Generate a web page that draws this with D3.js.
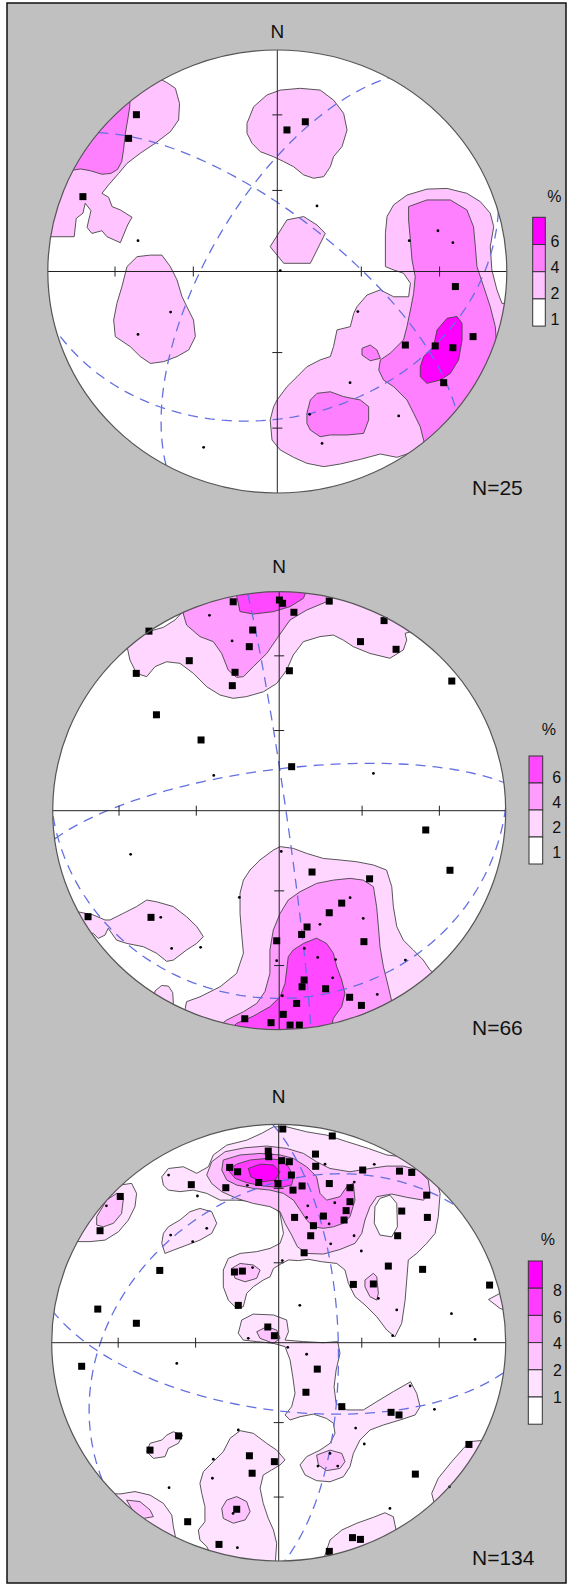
<!DOCTYPE html>
<html><head><meta charset="utf-8">
<script src="https://cdn.jsdelivr.net/npm/d3@7"></script>
<style>body{margin:0;background:#fff}svg{display:block}text{font-family:"Liberation Sans",Arial,sans-serif;fill:#111}</style>
</head><body><svg id="c" width="568" height="1585"></svg>
<script>
// ---------- DATA (net coordinates: -100..100, x east, y south-down) ----------
const tickAngles = [30, 60];
const net1Count = 25, net2Count = 66, net3Count = 134;

const legend1Labels = ["6","4","2","1"];
const legend1Colors = ["#ff00ff","#ff80ff","#ffc4ff","#ffffff"];
const legend2Labels = ["6","4","2","1"];
const legend2Colors = ["#ff48ff","#ff9cff","#ffd6ff","#ffffff"];
const legend3Labels = ["8","6","4","2","1"];
const legend3Colors = ["#ff00ff","#ff3cff","#ff8aff","#ffc4ff","#ffe2ff","#ffffff"];

const net1Palette = ["#ffc4ff","#ff80ff","#ff00ff"];
const net2Palette = ["#ffd6ff","#ff9cff","#ff48ff"];
const net3Palette = ["#ffe2ff","#ffc4ff","#ff8aff","#ff3cff","#ff00ff"];

// planes: [dip direction, dip]
const net1Planes = [[299,65.5],[38.8,69.6],[164.4,34.7]];
const net2Planes = [[82,87.6],[352.6,74.6],[179.1,15.4]];
const net3Planes = [[321,33.4],[187.9,64.7],[88.5,68.6]];

const net1Contours = [
 {level:1, pts:[[-81.5,-91.0],[-53.2,-88.0],[-48.1,-85.3],[-44.4,-82.7],[-42.6,-75.9],[-43.0,-68.4],[-46.6,-63.1],[-53.2,-57.9],[-59.7,-53.4],[-65.5,-48.8],[-69.1,-44.3],[-73.5,-39.1],[-76.4,-35.3],[-73.5,-33.5],[-72.0,-29.3],[-68.4,-27.8],[-63.3,-24.5],[-65.2,-21.0],[-68.4,-13.0],[-74.2,-15.7],[-76.4,-18.4],[-80.8,-17.2],[-82.9,-19.9],[-81.2,-27.5],[-83.7,-30.8],[-84.7,-26.3],[-87.6,-24.0],[-88.5,-15.7],[-98.9,-15.7],[-103.3,-15.7]]},
 {level:1, pts:[[-13.2,-66.9],[-10.3,-74.4],[-4.5,-79.7],[1.3,-81.9],[10.0,-82.7],[18.7,-81.9],[24.5,-77.4],[28.9,-71.4],[30.4,-63.9],[28.2,-56.4],[24.5,-51.8],[23.1,-47.3],[20.2,-42.8],[15.8,-42.1],[11.5,-43.6],[7.1,-47.3],[2.8,-49.6],[-1.6,-51.8],[-7.4,-54.1],[-11.0,-57.9],[-13.2,-62.4]]},
 {level:1, pts:[[-3.1,-11.2],[4.2,-23.3],[11.5,-24.8],[17.3,-21.0],[20.9,-17.2],[14.4,-3.7],[2.8,-3.7]]},
 {level:1, pts:[[-70.6,29.4],[-71.3,21.9],[-69.9,14.4],[-67.7,6.8],[-65.5,-2.2],[-61.1,-6.7],[-55.3,-7.4],[-50.3,-7.4],[-46.6,-2.2],[-43.7,3.8],[-41.5,11.4],[-39.4,15.9],[-36.5,21.9],[-35.7,29.4],[-38.6,35.4],[-43.7,38.4],[-49.5,40.7],[-55.3,41.5],[-59.7,38.4],[-64.1,33.9]]},
 {level:1, pts:[[47.1,-2.2],[47.1,-17.2],[47.8,-24.8],[50.7,-30.1],[56.5,-34.5],[65.2,-37.2],[74.0,-37.5],[82.6,-35.3],[88.5,-31.5],[92.8,-26.3],[94.3,-20.2],[92.8,-11.2],[93.5,-0.7],[95.7,8.3],[97.9,14.4],[104.4,14.4],[104.4,89.6],[65.2,89.6],[63.8,80.6],[56.5,82.4],[52.1,83.9],[44.9,82.4],[36.2,84.8],[27.5,86.9],[20.2,88.1],[12.9,86.6],[7.1,83.9],[1.3,80.6],[-2.3,76.1],[-3.1,67.0],[-1.6,61.0],[-0.1,58.0],[4.2,52.0],[8.6,47.5],[12.9,43.0],[18.7,39.9],[23.1,38.4],[24.5,33.9],[26.0,26.4],[31.8,24.9],[33.3,18.9],[34.7,15.9],[39.1,10.6],[44.9,8.3],[50.7,11.4],[57.2,11.4],[58.0,5.3],[55.0,0.8],[50.7,-0.7]]},
 {level:2, pts:[[-81.5,-83.4],[-64.1,-78.9],[-64.3,-74.4],[-65.2,-68.4],[-66.2,-62.4],[-67.0,-54.9],[-67.8,-49.6],[-69.6,-46.1],[-72.5,-44.3],[-76.4,-43.9],[-81.5,-45.5],[-85.8,-46.3],[-88.7,-45.8],[-94.6,-45.8]]},
 {level:2, pts:[[57.2,-23.3],[57.2,-29.3],[65.2,-32.3],[75.4,-32.3],[82.6,-27.8],[85.5,-20.2],[86.3,-11.2],[87.0,-2.2],[89.9,6.8],[92.8,15.9],[95.0,24.9],[95.4,30.9],[104.4,30.9],[104.4,89.6],[65.2,89.6],[63.8,76.4],[62.3,70.1],[59.4,64.0],[56.5,58.0],[50.7,52.0],[46.3,49.0],[44.2,44.5],[44.9,39.9],[49.2,36.9],[55.0,30.9],[56.5,24.9],[58.0,17.4],[59.4,9.9],[60.1,2.3],[58.7,-5.2],[58.0,-14.2]]},
 {level:2, pts:[[12.9,64.0],[14.4,58.0],[17.3,55.0],[23.1,54.3],[28.9,56.5],[36.2,58.0],[39.8,61.0],[39.8,67.0],[37.6,73.1],[30.4,73.8],[23.1,73.8],[18.7,74.6],[14.4,71.6],[12.9,68.5]]},
 {level:2, pts:[[36.9,34.7],[40.5,33.2],[43.4,35.4],[44.9,39.2],[40.5,40.3],[36.9,37.7]]},
 {level:3, pts:[[62.3,43.0],[63.8,38.4],[68.1,33.9],[69.6,26.4],[74.0,21.1],[78.3,20.3],[80.5,23.4],[80.5,30.9],[79.0,39.9],[75.4,46.0],[71.0,49.0],[65.2,50.5],[62.3,47.5]]}
];
const net1Squares = [[-61.4,-70.8],[-64.8,-60.1],[-84.7,-33.8],[4.2,-63.9],[12.2,-67.6],[77.6,6.8],[55.8,33.2],[68.8,33.6],[76.5,34.4],[85.3,29.4],[72.5,50.2]];
const net1Dots = [[17.3,-29.6],[-60.7,-13.9],[1.3,-0.4],[70.0,-18.4],[76.5,-13.0],[57.5,-13.9],[-46.5,18.3],[-60.7,28.4],[35.1,18.1],[31.7,50.2],[52.9,65.2],[14.1,64.5],[19.5,77.6],[-32.1,79.4]];

const net2Contours = [
 {level:1, pts:[[-43.1,-100.8],[63.6,-100.8],[63.6,-83.3],[55.6,-81.0],[56.3,-77.9],[54.8,-73.4],[48.9,-69.6],[40.1,-71.8],[32.7,-74.9],[28.3,-77.9],[23.9,-80.2],[18.0,-79.5],[10.7,-77.2],[6.2,-71.1],[3.3,-64.2],[-1.1,-58.1],[-7.0,-54.3],[-14.4,-52.1],[-20.3,-51.3],[-26.1,-52.8],[-32.0,-56.6],[-37.9,-62.7],[-43.8,-67.3],[-49.7,-68.0],[-54.8,-65.8],[-58.5,-61.2],[-63.0,-62.7],[-65.9,-68.8],[-67.0,-74.1],[-76.2,-77.9],[-57.0,-82.0],[-51.2,-83.7],[-46.0,-87.1],[-43.1,-90.3]]},
 {level:1, pts:[[-41.6,90.9],[-40.9,87.2],[-35.0,85.0],[-26.1,80.4],[-18.8,74.3],[-15.8,65.1],[-16.6,56.0],[-17.3,46.9],[-17.3,37.7],[-15.8,31.7],[-12.9,27.1],[-8.5,22.5],[-2.6,18.0],[0.4,16.4],[6.2,17.2],[12.1,19.5],[19.5,21.8],[26.8,22.5],[34.2,23.3],[41.6,24.8],[47.4,27.1],[49.7,34.7],[50.4,43.8],[51.9,52.9],[54.8,59.1],[59.2,63.6],[63.6,68.2],[66.6,72.8],[78.3,81.9],[78.3,112.3],[-46.7,112.3],[-49.7,92.5]]},
 {level:1, pts:[[-92.4,45.4],[-82.1,47.6],[-76.9,49.9],[-74.7,49.9],[-68.9,46.9],[-63.0,43.8],[-58.5,40.8],[-54.1,41.6],[-46.7,43.8],[-40.9,48.4],[-36.4,52.9],[-33.5,57.5],[-36.4,60.6],[-40.9,63.6],[-46.7,68.2],[-49.7,68.8],[-54.1,65.1],[-60.0,62.1],[-67.3,60.6],[-71.8,59.1],[-75.5,53.7],[-76.9,56.8],[-79.9,58.3],[-82.1,56.0],[-89.4,56.0]]},
 {level:1, pts:[[-55.6,86.5],[-54.8,82.3],[-51.9,79.8],[-48.9,80.1],[-47.0,83.1],[-46.7,88.7]]},
 {level:2, pts:[[-42.3,-100.8],[-42.3,-89.8],[-40.9,-84.8],[-35.0,-79.5],[-29.1,-77.2],[-25.4,-71.8],[-22.5,-64.2],[-18.8,-60.9],[-15.8,-61.2],[-11.4,-65.8],[-5.5,-71.8],[-0.4,-79.5],[4.8,-87.1],[12.1,-91.6],[20.9,-95.4],[23.9,-100.8]]},
 {level:2, pts:[[-29.1,100.2],[-23.2,95.6],[-15.8,91.8],[-9.9,88.0],[-6.3,82.6],[-4.1,74.3],[-4.1,63.6],[-2.6,54.5],[0.4,46.9],[4.0,40.8],[9.2,37.0],[16.5,33.2],[23.9,31.7],[31.3,30.9],[37.1,31.7],[41.6,34.7],[43.0,43.8],[43.8,52.9],[44.5,62.1],[46.0,71.2],[48.2,80.4],[49.7,87.2],[56.3,97.1],[41.6,112.3],[-29.1,112.3]]},
 {level:3, pts:[[-18.8,-100.8],[-18.8,-98.2],[-17.3,-90.9],[-11.4,-89.8],[-2.6,-90.9],[4.8,-93.2],[10.7,-97.0],[12.1,-100.8]]},
 {level:3, pts:[[-23.2,101.7],[-18.8,97.1],[-11.4,93.8],[-4.1,89.5],[0.4,85.0],[2.6,78.8],[3.3,72.8],[4.0,66.7],[6.2,63.6],[10.7,60.6],[16.5,58.2],[20.9,60.6],[23.9,65.1],[25.4,71.2],[27.6,77.3],[29.0,83.4],[27.6,89.5],[23.9,94.8],[22.4,101.7]]}
];
const net2Squares = [[-20.3,-95.4],[0.1,-96.2],[1.5,-94.7],[6.5,-90.6],[22.1,-95.7],[46.3,-86.8],[-57.5,-82.0],[-11.7,-82.5],[-13.2,-74.9],[35.9,-77.2],[51.6,-73.7],[-39.7,-68.5],[-63.1,-62.7],[-19.5,-63.2],[-20.7,-57.1],[4.5,-63.9],[76.2,-59.2],[-54.2,-43.8],[-34.5,-32.3],[5.5,-20.1],[64.7,8.8],[75.4,27.2],[14.5,28.0],[39.9,31.1],[27.6,42.2],[22.1,46.6],[12.3,53.1],[9.9,56.5],[-1.1,59.4],[37.4,59.8],[-84.4,48.4],[-56.6,48.7],[11.0,77.3],[10.1,80.4],[20.5,81.3],[31.1,85.2],[7.7,88.0],[36.3,88.9],[1.8,93.0],[-15.2,95.0],[-3.6,96.8],[4.8,97.9],[8.9,97.9]];
const net2Dots = [[-30.8,-89.2],[-20.8,-77.5],[-28.9,-16.1],[41.6,-17.0],[-65.6,19.9],[0.9,18.6],[-17.6,39.6],[31.3,39.7],[18.0,51.9],[37.1,49.2],[-52.3,48.7],[-47.5,62.9],[-34.7,62.4],[11.1,62.9],[17.0,67.0],[24.9,68.0],[23.6,76.3],[-1.1,68.5],[1.4,84.5],[43.3,83.9],[55.7,68.2]];

const net3Contours = [
 {level:1, pts:[[-51.5,-76.0],[-48.6,-79.8],[-42.0,-80.6],[-36.1,-77.6],[-31.0,-80.6],[-28.8,-86.0],[-22.9,-90.5],[-14.1,-92.8],[-7.5,-95.9],[-2.3,-98.9],[3.5,-98.9],[12.3,-96.6],[21.1,-95.1],[30.0,-92.1],[39.5,-89.0],[47.6,-86.0],[56.4,-84.9],[63.7,-82.1],[68.9,-76.8],[71.1,-68.4],[70.3,-57.7],[68.9,-50.1],[65.2,-45.5],[60.8,-40.9],[57.1,-37.9],[56.4,-28.7],[55.7,-19.5],[54.2,-8.9],[51.2,-2.7],[47.6,-5.8],[43.2,-11.9],[38.0,-17.3],[33.6,-21.1],[30.7,-27.2],[29.2,-33.3],[25.6,-36.3],[18.9,-37.1],[13.1,-38.2],[8.7,-37.6],[4.3,-37.9],[1.3,-36.3],[-2.3,-34.0],[-3.8,-30.2],[-6.8,-28.7],[-11.2,-25.6],[-14.1,-22.6],[-15.6,-16.5],[-18.5,-15.7],[-22.2,-19.5],[-24.4,-25.6],[-24.4,-33.3],[-22.2,-38.6],[-17.0,-40.9],[-9.7,-41.7],[-3.8,-43.2],[0.6,-45.5],[2.1,-50.1],[0.6,-59.2],[-2.3,-62.3],[-9.7,-64.6],[-18.5,-65.3],[-25.8,-65.3],[-31.7,-68.4],[-37.6,-69.9],[-43.5,-69.2],[-48.6,-69.9],[-50.8,-72.2]]},
 {level:1, pts:[[-50.8,-50.1],[-48.6,-53.1],[-43.5,-56.2],[-39.1,-60.0],[-34.7,-61.5],[-29.5,-60.0],[-27.3,-54.7],[-29.5,-50.1],[-34.7,-47.0],[-40.5,-44.7],[-46.4,-42.4],[-50.1,-40.9],[-51.5,-45.5]]},
 {level:1, pts:[[-83.1,-71.5],[-69.9,-72.2],[-64.8,-73.0],[-62.6,-68.4],[-63.3,-62.3],[-66.2,-56.2],[-70.6,-50.8],[-76.5,-47.0],[-83.1,-46.3],[-89.0,-46.3],[-90.5,-57.7]]},
 {level:1, pts:[[92.4,-19.8],[97.5,-22.6],[103.4,-22.6],[103.4,-13.4],[97.5,-15.7]]},
 {level:1, pts:[[-17.8,-4.3],[-16.3,-10.4],[-11.2,-13.1],[-2.3,-12.7],[3.5,-10.4],[4.3,-5.0],[2.8,-1.2],[10.9,-0.5],[19.7,0.0],[26.0,-0.5],[27.0,4.9],[25.3,12.5],[24.4,20.2],[25.3,27.8],[30.0,30.8],[37.3,30.8],[43.2,27.0],[50.5,22.4],[58.1,17.9],[60.8,23.2],[62.3,29.3],[60.1,33.1],[53.5,35.4],[46.1,37.7],[40.2,40.0],[35.8,44.6],[32.9,50.7],[31.4,56.8],[28.5,61.4],[22.6,63.7],[16.7,63.2],[11.6,60.6],[9.4,56.0],[12.3,52.2],[18.2,49.2],[22.6,46.1],[24.8,41.5],[24.1,36.9],[21.1,34.7],[15.3,32.7],[9.4,33.9],[5.0,35.4],[2.8,33.1],[5.7,29.3],[7.2,23.2],[6.2,15.6],[5.0,7.9],[2.8,1.8],[-2.3,0.3],[-9.7,-0.5],[-15.6,-1.2]]},
 {level:1, pts:[[-58.1,49.9],[-56.7,46.1],[-51.5,44.6],[-49.3,42.3],[-46.4,40.8],[-42.3,42.3],[-44.2,46.1],[-48.6,48.4],[-50.1,52.2],[-55.2,53.0]]},
 {level:1, pts:[[-29.5,98.0],[-31.7,93.4],[-34.7,90.4],[-35.4,85.8],[-32.5,82.0],[-32.5,75.1],[-33.9,69.0],[-34.7,64.4],[-33.2,59.1],[-28.8,54.5],[-24.4,49.9],[-21.4,43.8],[-17.0,40.3],[-11.2,41.5],[-5.3,46.1],[-0.9,49.2],[2.8,53.7],[0.6,56.0],[-3.1,58.3],[-6.8,60.6],[-8.2,66.7],[-6.8,73.6],[-4.6,80.5],[-2.3,85.8],[-0.9,91.9],[-1.6,102.6]]},
 {level:1, pts:[[-75.8,69.0],[-69.9,69.3],[-63.3,68.2],[-56.7,69.8],[-50.8,73.6],[-47.1,79.0],[-46.4,84.3],[-44.9,91.9],[-68.4,84.3]]},
 {level:1, pts:[[19.7,99.5],[22.6,90.4],[27.8,85.8],[34.4,82.7],[41.7,80.0],[46.8,77.9],[50.5,79.7],[52.0,87.3],[41.7,102.6]]},
 {level:1, pts:[[67.4,69.0],[70.3,62.1],[76.2,54.5],[81.4,48.4],[84.3,45.3],[91.6,44.6],[79.9,78.2],[68.9,75.1]]},
 {level:0, pts:[[42.4,-62.3],[44.6,-66.1],[49.0,-67.6],[52.0,-63.8],[52.3,-53.1],[49.8,-48.5],[44.6,-49.3],[42.1,-54.7]]},
 {level:2, pts:[[-31.7,-76.8],[-29.5,-82.9],[-23.6,-87.5],[-14.8,-89.3],[-5.3,-90.1],[3.5,-89.0],[10.9,-86.7],[16.7,-82.9],[22.6,-79.8],[31.4,-78.3],[40.2,-79.8],[47.6,-80.9],[54.9,-80.9],[61.5,-79.1],[65.9,-74.5],[66.7,-68.4],[63.7,-65.3],[56.4,-66.6],[49.8,-68.1],[43.2,-66.9],[40.2,-62.3],[38.0,-56.2],[36.6,-50.1],[33.6,-45.5],[27.0,-42.7],[19.7,-40.6],[12.3,-40.9],[8.2,-44.0],[5.7,-49.3],[2.8,-54.7],[0.6,-60.0],[-3.8,-62.3],[-11.2,-63.8],[-18.5,-66.1],[-25.1,-69.2],[-29.5,-72.9]]},
 {level:2, pts:[[-80.2,-57.7],[-75.8,-65.3],[-71.4,-68.4],[-68.4,-66.1],[-69.2,-59.2],[-72.8,-54.7],[-77.2,-53.1],[-80.2,-53.9]]},
 {level:2, pts:[[38.0,-28.7],[41.7,-31.8],[43.2,-30.2],[43.9,-22.6],[43.2,-19.5],[40.2,-21.1],[38.0,-25.6]]},
 {level:2, pts:[[-20.7,-34.0],[-17.0,-36.3],[-11.2,-35.6],[-8.2,-33.3],[-9.7,-29.5],[-14.8,-27.9],[-19.2,-29.5]]},
 {level:2, pts:[[16.7,51.5],[22.6,49.2],[27.8,50.7],[29.2,54.5],[27.0,57.6],[21.1,58.6],[17.5,56.0]]},
 {level:2, pts:[[-9.7,-5.0],[-5.3,-7.3],[-0.9,-5.8],[0.6,-2.0],[-2.3,0.3],[-8.2,-2.0]]},
 {level:2, pts:[[-25.1,75.9],[-22.9,72.1],[-18.5,70.5],[-14.1,72.8],[-12.6,77.4],[-14.8,81.2],[-20.0,82.7],[-24.4,80.5]]},
 {level:2, pts:[[-67.0,72.1],[-61.1,72.8],[-56.7,76.6],[-55.2,79.7],[-59.6,80.5],[-64.0,77.4]]},
 {level:3, pts:[[-24.4,-83.7],[-17.0,-86.0],[-8.2,-86.7],[0.6,-86.0],[6.5,-84.4],[12.3,-80.6],[16.7,-76.0],[18.2,-68.4],[21.1,-65.3],[27.0,-66.9],[30.0,-71.5],[32.9,-73.0],[33.6,-65.3],[31.4,-57.7],[28.5,-54.7],[24.1,-53.1],[19.7,-52.4],[15.3,-53.1],[12.3,-56.2],[9.4,-60.8],[6.5,-65.3],[2.1,-68.4],[-3.8,-69.9],[-11.2,-70.7],[-18.5,-72.2],[-22.9,-74.5],[-25.1,-79.1]]},
 {level:4, pts:[[-22.2,-79.1],[-18.5,-81.8],[-12.6,-83.7],[-5.3,-84.4],[0.6,-83.7],[4.3,-80.6],[6.5,-76.0],[5.7,-72.2],[0.6,-71.1],[-6.8,-71.8],[-14.1,-73.3],[-19.2,-75.3]]},
 {level:5, pts:[[-13.4,-79.8],[-8.2,-81.8],[-2.3,-81.4],[0.6,-78.3],[-1.6,-74.5],[-7.5,-73.7],[-12.3,-76.0]]}
];
const net3Squares = [[1.8,-97.9],[23.6,-94.7],[-4.6,-87.8],[-4.4,-85.2],[1.3,-83.4],[4.7,-82.9],[16.2,-86.4],[-21.6,-80.3],[-18.1,-78.3],[5.6,-76.8],[16.3,-80.8],[37.0,-79.1],[53.2,-78.6],[58.6,-78.0],[-38.5,-72.4],[-23.3,-71.0],[-8.8,-73.4],[-0.3,-72.9],[10.3,-71.8],[6.3,-69.9],[22.3,-72.9],[31.4,-71.0],[65.2,-67.6],[-69.8,-67.0],[31.4,-64.6],[29.7,-60.5],[28.8,-56.2],[19.7,-58.0],[7.0,-57.4],[15.3,-53.6],[54.2,-60.3],[65.5,-57.4],[14.1,-49.0],[52.4,-49.0],[-78.7,-51.3],[11.2,-41.2],[48.3,-35.1],[63.4,-33.6],[-19.5,-32.4],[-16.0,-32.8],[-52.4,-33.1],[32.9,-26.7],[41.7,-26.9],[92.9,-26.4],[-17.8,-17.1],[-79.7,-15.4],[-62.7,-8.9],[-4.8,-7.2],[-1.9,-3.2],[-86.8,10.8],[17.0,12.1],[12.0,22.7],[27.8,29.3],[49.5,31.9],[53.0,33.1],[83.8,46.6],[-44.1,42.7],[-56.7,49.2],[-12.9,51.8],[-1.9,54.5],[-11.7,59.8],[60.2,60.2],[-18.5,76.3],[-40.1,82.0],[32.5,89.3],[36.0,90.1],[-26.3,92.4],[22.3,95.6]];
const net3Dots = [[-48.5,-76.8],[-35.8,-67.2],[-17.8,-77.9],[-13.8,-72.1],[-1.3,-74.0],[20.4,-81.8],[42.1,-81.7],[33.3,-73.6],[12.8,-62.7],[24.7,-64.1],[12.3,-57.4],[22.2,-54.4],[33.2,-49.0],[22.9,-45.3],[36.4,-42.0],[-75.9,-62.7],[-47.6,-49.3],[-37.9,-46.3],[-31.7,-52.4],[-11.5,-34.4],[1.6,-37.6],[43.9,-20.3],[52.0,-15.0],[50.2,-3.2],[9.3,-17.1],[76.1,-13.3],[86.5,-1.5],[-13.4,-2.0],[4.0,2.1],[12.3,5.3],[-44.9,9.5],[57.9,19.8],[68.6,30.5],[33.9,39.1],[37.7,46.4],[17.3,56.5],[26.0,56.5],[22.6,50.7],[-28.8,53.4],[-29.2,62.1],[-48.3,66.4],[-20.1,78.2],[49.0,75.9],[75.2,66.0],[-17.8,40.0],[-18.2,93.9]];

// ---------- LAYOUT ----------
const layout = [
 {cx:277.3, cy:271.5, rx:229.5, ry:221.5, nY:38, countY:495,
  lg:{x:532.7, top:217.3, h:27.2, w:12.6, labelX:550.5, labelY:247, labelStep:26, pctX:547.3, pctY:202}},
 {cx:279.2, cy:810.7, rx:226.5, ry:219, nY:573, countY:1035,
  lg:{x:529, top:756, h:27, w:13.7, labelX:552.3, labelY:783, labelStep:25, pctX:541.7, pctY:735}},
 {cx:278.7, cy:1342.7, rx:227, ry:218.3, nY:1103, countY:1565,
  lg:{x:528.3, top:1261, h:27.2, w:14, labelX:553, labelY:1296, labelStep:26.7, pctX:540.7, pctY:1245}}
];

const nets = [
 {contours:net1Contours, squares:net1Squares, dots:net1Dots, planes:net1Planes, palette:net1Palette, count:net1Count, labels:legend1Labels, colors:legend1Colors},
 {contours:net2Contours, squares:net2Squares, dots:net2Dots, planes:net2Planes, palette:net2Palette, count:net2Count, labels:legend2Labels, colors:legend2Colors},
 {contours:net3Contours, squares:net3Squares, dots:net3Dots, planes:net3Planes, palette:net3Palette, count:net3Count, labels:legend3Labels, colors:legend3Colors}
];

// equal-area (Schmidt) lower-hemisphere great circle of a plane
function greatCircle(dd, dip) {
  const rad = Math.PI / 180;
  const sAz = (dd - 90) * rad;
  const s = [Math.sin(sAz), Math.cos(sAz), 0];
  const d = [Math.sin(dd*rad)*Math.cos(dip*rad), Math.cos(dd*rad)*Math.cos(dip*rad), Math.sin(dip*rad)];
  const pts = [];
  for (let a = 0; a <= 180; a += 2) {
    const ca = Math.cos(a*rad), sa = Math.sin(a*rad);
    const x = ca*s[0] + sa*d[0], y = ca*s[1] + sa*d[1], z = ca*s[2] + sa*d[2];
    const pl = Math.asin(Math.max(-1, Math.min(1, z)));
    const tr = Math.atan2(x, y);
    const r = Math.SQRT2 * Math.sin((Math.PI/2 - pl) / 2);
    pts.push([100 * r * Math.sin(tr), -100 * r * Math.cos(tr)]);
  }
  return pts;
}

const svg = d3.select("#c");
svg.append("rect").attr("x", 7).attr("y", 3).attr("width", 559).attr("height", 1580)
  .attr("fill", "#c0c0c0").attr("stroke", "#111").attr("stroke-width", 1.5);

const defs = svg.append("defs");

nets.forEach((net, i) => {
  const L = layout[i];
  const x = d3.scaleLinear().domain([-100, 100]).range([L.cx - L.rx, L.cx + L.rx]);
  const y = d3.scaleLinear().domain([-100, 100]).range([L.cy - L.ry, L.cy + L.ry]);
  const clipId = "clip" + i;
  defs.append("clipPath").attr("id", clipId).append("ellipse")
    .attr("cx", L.cx).attr("cy", L.cy).attr("rx", L.rx).attr("ry", L.ry);

  const g = svg.append("g");
  g.append("ellipse").attr("cx", L.cx).attr("cy", L.cy).attr("rx", L.rx).attr("ry", L.ry).attr("fill", "#fff");

  const inner = g.append("g").attr("clip-path", `url(#${clipId})`);
  const poly = d3.line().x(d => x(d[0])).y(d => y(d[1])).curve(d3.curveLinearClosed);
  inner.selectAll("path.ct").data(net.contours).join("path").attr("class", "ct")
    .attr("d", c => poly(c.pts))
    .attr("fill", c => c.level === 0 ? "#ffffff" : net.palette[c.level - 1])
    .attr("stroke", "#444").attr("stroke-width", 0.9).attr("stroke-linejoin", "round");

  const gcLine = d3.line().x(d => x(d[0])).y(d => y(d[1])).curve(d3.curveLinear);
  inner.selectAll("path.gc").data(net.planes).join("path").attr("class", "gc")
    .attr("d", p => gcLine(greatCircle(p[0], p[1])))
    .attr("fill", "none").attr("stroke", "#6470e0").attr("stroke-width", 1.3)
    .attr("stroke-dasharray", "10,7");

  // axes
  g.append("line").attr("x1", x(-100)).attr("x2", x(100)).attr("y1", y(0)).attr("y2", y(0))
    .attr("stroke", "#222").attr("stroke-width", 1);
  g.append("line").attr("x1", x(0)).attr("x2", x(0)).attr("y1", y(-100)).attr("y2", y(100))
    .attr("stroke", "#222").attr("stroke-width", 1);
  const tickR = [];
  tickAngles.forEach(a => { const r = 100 * Math.SQRT2 * Math.sin(a * Math.PI / 360); tickR.push(r, -r); });
  g.selectAll("line.tx").data(tickR).join("line").attr("class", "tx")
    .attr("x1", r => x(r)).attr("x2", r => x(r)).attr("y1", y(0) - 5).attr("y2", y(0) + 5)
    .attr("stroke", "#222").attr("stroke-width", 1);
  g.selectAll("line.ty").data(tickR).join("line").attr("class", "ty")
    .attr("y1", r => y(r)).attr("y2", r => y(r)).attr("x1", x(0) - 5).attr("x2", x(0) + 5)
    .attr("stroke", "#222").attr("stroke-width", 1);

  // points
  g.selectAll("rect.sq").data(net.squares).join("rect").attr("class", "sq")
    .attr("x", d => x(d[0]) - 3.5).attr("y", d => y(d[1]) - 3.5).attr("width", 7).attr("height", 7)
    .attr("fill", "#000");
  g.selectAll("circle.dt").data(net.dots).join("circle").attr("class", "dt")
    .attr("cx", d => x(d[0])).attr("cy", d => y(d[1])).attr("r", 1.4).attr("fill", "#000");

  // outline
  g.append("ellipse").attr("cx", L.cx).attr("cy", L.cy).attr("rx", L.rx).attr("ry", L.ry)
    .attr("fill", "none").attr("stroke", "#555").attr("stroke-width", 1.2);

  // labels
  g.append("text").attr("x", x(0)).attr("y", L.nY).attr("text-anchor", "middle")
    .attr("font-size", 19).text("N");
  g.append("text").attr("x", 472).attr("y", L.countY).attr("font-size", 21).text("N=" + net.count);

  // legend
  const lg = L.lg;
  g.append("text").attr("x", lg.pctX).attr("y", lg.pctY).attr("font-size", 16).text("%");
  g.selectAll("rect.lg").data(net.colors).join("rect").attr("class", "lg")
    .attr("x", lg.x).attr("y", (c, k) => lg.top + k * lg.h).attr("width", lg.w).attr("height", lg.h)
    .attr("fill", c => c).attr("stroke", "#333").attr("stroke-width", 1);
  g.selectAll("text.ll").data(net.labels).join("text").attr("class", "ll")
    .attr("x", lg.labelX).attr("y", (t, k) => lg.labelY + k * lg.labelStep)
    .attr("font-size", 16).text(t => t);
});
</script></body></html>
